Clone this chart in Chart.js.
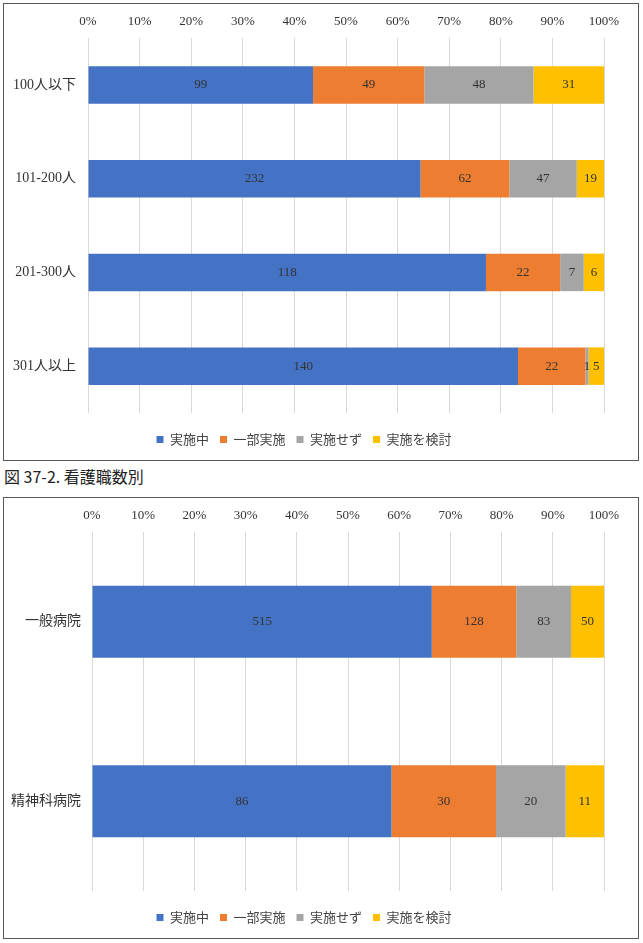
<!DOCTYPE html>
<html>
<head>
<meta charset="utf-8">
<script src="https://cdn.jsdelivr.net/npm/chart.js@4"></script>
<style>
  body { margin: 0; background: #fff; width: 643px; height: 943px; position: relative; font-family: "Noto Sans CJK JP", sans-serif; }
  .box { position: absolute; left: 3px; width: 634px; border: 1px solid #595959; }
  #box1 { top: 3px; height: 456px; }
  #box2 { top: 497px; height: 440px; }
  #caption { position: absolute; left: 4px; top: 464px; font-size: 16px; color: #222; }
</style>
</head>
<body>
<div class="box" id="box1"><canvas id="chart1" width="634" height="456"></canvas></div>
<div id="caption">図 37-2. 看護職数別</div>
<div class="box" id="box2"><canvas id="chart2" width="634" height="440"></canvas></div>
<script>
// データ
const seriesNames = ['実施中', '一部実施', '実施せず', '実施を検討'];
const colors = ['#4472C4', '#ED7D31', '#A5A5A5', '#FFC000'];
const tickLabels = ['0%', '10%', '20%', '30%', '40%', '50%', '60%', '70%', '80%', '90%', '100%'];

// 病床規模別
const bedLabels = ['100人以下', '101-200人', '201-300人', '301人以上'];
const bedDoing   = [99, 232, 118, 140];
const bedPartial = [49, 62, 22, 22];
const bedNot     = [48, 47, 7, 1];
const bedPlan    = [31, 19, 6, 5];

// 病院種別
const typeLabels = ['一般病院', '精神科病院'];
const typeDoing   = [515, 86];
const typePartial = [128, 30];
const typeNot     = [83, 20];
const typePlan    = [50, 11];

const serifFont = '"Liberation Serif", "Noto Sans CJK JP", serif';

// 値ラベルを描くプラグイン
const valueLabels = {
  id: 'valueLabels',
  afterDatasetsDraw(chart) {
    const ctx = chart.ctx;
    ctx.save();
    ctx.font = '13px ' + serifFont;
    ctx.fillStyle = '#333';
    ctx.textAlign = 'center';
    ctx.textBaseline = 'middle';
    chart.data.datasets.forEach((ds, i) => {
      chart.getDatasetMeta(i).data.forEach((bar, j) => {
        const cnt = ds.counts[j];
        const x = (bar.x + bar.base) / 2;
        ctx.fillText(cnt, x, bar.y);
      });
    });
    ctx.restore();
  }
};

function makeChart(id, labels, series, leftWidth, labelPad) {
  const totals = labels.map((_, j) => series.reduce((s, arr) => s + arr[j], 0));
  const datasets = series.map((arr, i) => ({
    label: seriesNames[i],
    counts: arr,
    data: arr.map((v, j) => v / totals[j] * 100),
    backgroundColor: colors[i],
    borderWidth: 0,
    barPercentage: 0.4,
    categoryPercentage: 1.0
  }));

  return new Chart(document.getElementById(id), {
    type: 'bar',
    data: { labels: labels, datasets: datasets },
    options: {
      indexAxis: 'y',
      responsive: false,
      animation: false,
      layout: { padding: { top: 0, right: 34, bottom: 4, left: 0 } },
      plugins: {
        legend: {
          position: 'bottom',
          labels: {
            boxWidth: 7, boxHeight: 7, padding: 11,
            font: { size: 13, family: '"Noto Sans CJK JP", sans-serif' },
            color: '#444'
          }
        },
        tooltip: { enabled: false }
      },
      scales: {
        x: {
          position: 'top',
          stacked: true,
          min: 0, max: 100,
          afterFit(scale) { scale.height = 34; },
          ticks: {
            stepSize: 10,
            padding: 9,
            color: '#333',
            font: { size: 13, family: serifFont },
            callback: (v, i) => tickLabels[i]
          },
          grid: { color: '#d9d9d9', drawTicks: false },
          border: { display: false }
        },
        // 凡例との間隔用（表示なし）
        gap: {
          type: 'linear',
          axis: 'x',
          position: 'bottom',
          afterFit(scale) { scale.height = 9; },
          ticks: { display: false },
          grid: { display: false },
          border: { display: false }
        },
        y: {
          stacked: true,
          afterFit(scale) { scale.width = leftWidth; },
          ticks: { color: '#333', padding: labelPad, font: { size: 14, family: serifFont } },
          grid: { display: false },
          border: { display: false }
        }
      }
    },
    plugins: [valueLabels]
  });
}

makeChart('chart1', bedLabels, [bedDoing, bedPartial, bedNot, bedPlan], 84, 4);
makeChart('chart2', typeLabels, [typeDoing, typePartial, typeNot, typePlan], 88, 3);
</script>
</body>
</html>
